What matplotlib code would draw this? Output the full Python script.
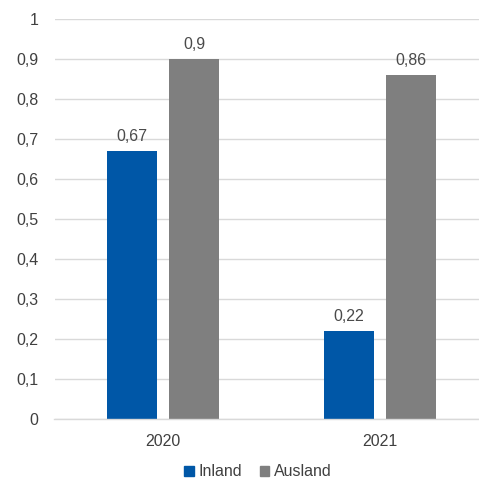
import matplotlib
matplotlib.use("Agg")
import matplotlib.pyplot as plt
from matplotlib.patches import Patch
import numpy as np

years = ["2020", "2021"]
inland = [0.67, 0.22]
ausland = [0.9, 0.86]
series_names = ["Inland", "Ausland"]
y_ticks = [0, 0.1, 0.2, 0.3, 0.4, 0.5, 0.6, 0.7, 0.8, 0.9, 1]

blue = "#0057A7"
gray = "#7F7F7F"
text_color = "#404040"
label_color = "#4A4A4A"
grid_color = "#D9D9D9"
fs = 11.5

plt.rcParams["font.family"] = ["Liberation Sans", "DejaVu Sans"]

W, H = 479, 479
fig = plt.figure(figsize=(W / 100, H / 100), dpi=100)
left_px, right_px = 54.5, 488.5
top_px, bottom_px = 19.3, 419.0
ax = fig.add_axes([left_px / W, 1 - bottom_px / H,
                   (right_px - left_px) / W, (bottom_px - top_px) / H])

x = np.arange(len(years))
bw = 0.23
off = 0.143

b1 = ax.bar(x - off, inland, bw, color=blue, zorder=3)
b2 = ax.bar(x + off, ausland, bw, color=gray, zorder=3)

def fmt(v):
    return f"{v:g}".replace(".", ",")

for bars, vals in ((b1, inland), (b2, ausland)):
    for rect, v in zip(bars, vals):
        ax.annotate(fmt(v), (rect.get_x() + rect.get_width() / 2, v),
                    xytext=(0, 5), textcoords="offset points",
                    ha="center", va="bottom", fontsize=fs, color=label_color)

ax.set_xlim(-0.5, 1.5)
ax.set_ylim(0, 1)
ax.set_yticks(y_ticks)
ax.set_yticklabels([fmt(t) for t in y_ticks])
ax.set_xticks(x)
ax.set_xticklabels(years)
ax.tick_params(axis="both", length=0, labelsize=fs, labelcolor=text_color)
ax.tick_params(axis="y", pad=11.5)
ax.tick_params(axis="x", pad=10.5)

ax.grid(axis="y", color=grid_color, linewidth=1, zorder=0)
for s in ("top", "right", "left"):
    ax.spines[s].set_visible(False)
ax.spines["bottom"].set_color(grid_color)
ax.spines["bottom"].set_linewidth(1)
ax.spines["bottom"].set_zorder(4)

handles = [Patch(color=blue), Patch(color=gray)]
fig.legend(handles, series_names, loc="center", bbox_to_anchor=(258 / W, 1 - 472 / H),
           ncol=2, frameon=False, fontsize=fs, labelcolor=text_color,
           handlelength=0.6, handleheight=0.6, handletextpad=0.3, columnspacing=1.1)

fig.savefig("out.png", dpi=100)
